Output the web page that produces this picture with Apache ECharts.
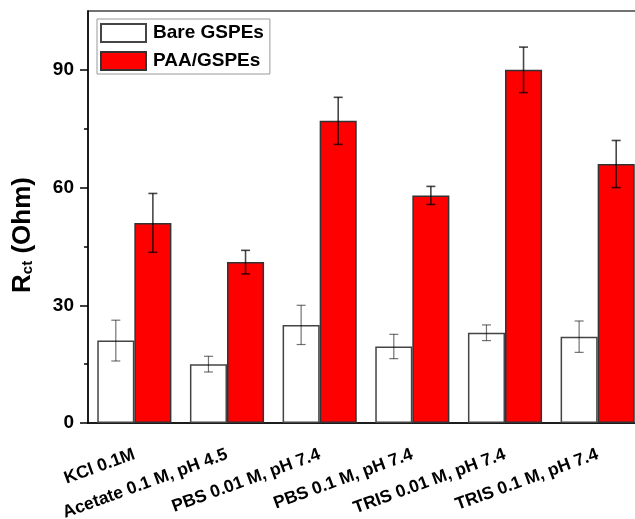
<!DOCTYPE html>
<html>
<head>
<meta charset="utf-8">
<script src="https://cdn.jsdelivr.net/npm/echarts@6/dist/echarts.min.js"></script>
<style>
  html, body { margin: 0; padding: 0; background: #fff; }
  #chart { width: 635px; height: 519px; }
</style>
</head>
<body>
<div id="chart"></div>
<script>
// Electrolyte conditions on the category axis
const categories = [
  'KCl 0.1M',
  'Acetate 0.1 M, pH 4.5',
  'PBS 0.01 M, pH 7.4',
  'PBS 0.1 M, pH 7.4',
  'TRIS 0.01 M, pH 7.4',
  'TRIS 0.1 M, pH 7.4'
];

// Charge-transfer resistance (Ohm) and standard deviations
const bareValues = [21, 15, 25, 19.5, 23, 22];
const bareErrors = [5.2, 2, 5, 3.1, 2, 4];
const paaValues = [51, 41, 77, 58, 90, 66];
const paaErrors = [7.5, 3, 6, 2.3, 5.8, 6];

const yMajorTicks = [0, 30, 60, 90];
const yMinorTicks = [15, 45, 75];

const FONT = '"Liberation Sans", Arial, sans-serif';

// Build [categoryIndex, low, high] rows for the error-bar series
function errorRows(values, errors) {
  return values.map((v, i) => [i, v - errors[i], v + errors[i]]);
}

// Error bar glyph: vertical stem plus two caps, shifted onto its bar
function makeErrorRenderer(side, color, width) {
  return function (params, api) {
    const idx = api.value(0);
    const band = api.size([1, 0])[0];
    const shift = side * band * 0.2;
    const lo = api.coord([idx, api.value(1)]);
    const hi = api.coord([idx, api.value(2)]);
    const x = lo[0] + shift;
    const cap = 4.5;
    const style = { stroke: color, lineWidth: width, fill: null };
    return {
      type: 'group',
      children: [
        { type: 'line', shape: { x1: x, y1: hi[1], x2: x, y2: lo[1] }, style },
        { type: 'line', shape: { x1: x - cap, y1: hi[1], x2: x + cap, y2: hi[1] }, style },
        { type: 'line', shape: { x1: x - cap, y1: lo[1], x2: x + cap, y2: lo[1] }, style }
      ]
    };
  };
}

const chart = echarts.init(document.getElementById('chart'), null, { renderer: 'canvas' });

chart.setOption({
  backgroundColor: '#ffffff',
  animation: false,
  textStyle: { fontFamily: FONT },
  grid: {
    left: 88,
    top: 11,
    width: 556,
    height: 412,
    containLabel: false,
    outerBoundsMode: 'none',
    show: true,
    borderColor: '#444',
    borderWidth: 1.5,
    backgroundColor: 'transparent'
  },
  legend: {
    orient: 'vertical',
    left: 97,
    top: 19,
    padding: [4, 6, 3, 3],
    itemWidth: 45,
    itemHeight: 18,
    itemGap: 8,
    icon: 'rect',
    borderColor: '#999',
    borderWidth: 1,
    borderRadius: 0,
    backgroundColor: '#fff',
    data: ['Bare GSPEs', 'PAA/GSPEs'],
    textStyle: {
      fontFamily: FONT,
      fontWeight: 'bold',
      fontSize: 19,
      color: '#000',
      padding: [0, 0, 0, 2]
    }
  },
  xAxis: [
    {
      type: 'category',
      data: categories,
      position: 'bottom',
      axisLine: { lineStyle: { color: '#000', width: 1.5 } },
      axisTick: { alignWithLabel: true, length: 8, lineStyle: { color: '#000', width: 1.5 } },
      axisLabel: {
        interval: 0,
        rotate: 20,
        margin: 31,
        color: '#000',
        fontFamily: FONT,
        fontWeight: 'bold',
        fontSize: 17.5
      },
      splitLine: { show: false }
    },
    {
      // boundary ticks between conditions
      type: 'category',
      data: categories,
      position: 'bottom',
      axisLine: { show: false },
      axisTick: { alignWithLabel: false, length: 4, lineStyle: { color: '#000', width: 1.5 } },
      axisLabel: { show: false },
      splitLine: { show: false }
    }
  ],
  yAxis: [
    {
      type: 'value',
      min: 0,
      max: 105,
      name: '{r|R}{s|ct}{r| (Ohm)}',
      nameLocation: 'middle',
      nameGap: 52,
      nameTextStyle: {
        padding: [0, 36, 0, 0],
        rich: {
          r: { fontFamily: FONT, fontWeight: 'bold', fontSize: 26, color: '#000' },
          s: { fontFamily: FONT, fontWeight: 'bold', fontSize: 15, color: '#000', padding: [10, 0, 0, 0] }
        }
      },
      axisLine: { show: true, lineStyle: { color: '#000', width: 1.5 } },
      axisTick: { show: true, length: 8, customValues: yMajorTicks, lineStyle: { color: '#000', width: 1.5 } },
      axisLabel: {
        customValues: yMajorTicks,
        margin: 14,
        color: '#000',
        fontFamily: FONT,
        fontWeight: 'bold',
        fontSize: 19
      },
      splitLine: { show: false }
    },
    {
      // minor ticks midway between labelled values
      type: 'value',
      min: 0,
      max: 105,
      position: 'left',
      axisLine: { show: false },
      axisTick: { show: true, length: 4, customValues: yMinorTicks, lineStyle: { color: '#000', width: 1.5 } },
      axisLabel: { show: false },
      splitLine: { show: false }
    }
  ],
  series: [
    {
      name: 'Bare GSPEs',
      type: 'bar',
      data: bareValues,
      barWidth: '40%',
      barGap: '0%',
      itemStyle: { color: '#ffffff', borderColor: '#444', borderWidth: 1.5 },
      z: 2
    },
    {
      name: 'PAA/GSPEs',
      type: 'bar',
      data: paaValues,
      barWidth: '40%',
      barGap: '0%',
      itemStyle: { color: '#ff0000', borderColor: '#333', borderWidth: 1.5 },
      z: 2
    },
    {
      name: 'Bare GSPEs error',
      type: 'custom',
      data: errorRows(bareValues, bareErrors),
      renderItem: makeErrorRenderer(-1, 'rgba(0,0,0,0.55)', 1.2),
      encode: { x: 0, y: [1, 2] },
      z: 5,
      silent: true
    },
    {
      name: 'PAA/GSPEs error',
      type: 'custom',
      data: errorRows(paaValues, paaErrors),
      renderItem: makeErrorRenderer(1, 'rgba(0,0,0,0.72)', 1.6),
      encode: { x: 0, y: [1, 2] },
      z: 5,
      silent: true
    }
  ]
});
</script>
</body>
</html>
